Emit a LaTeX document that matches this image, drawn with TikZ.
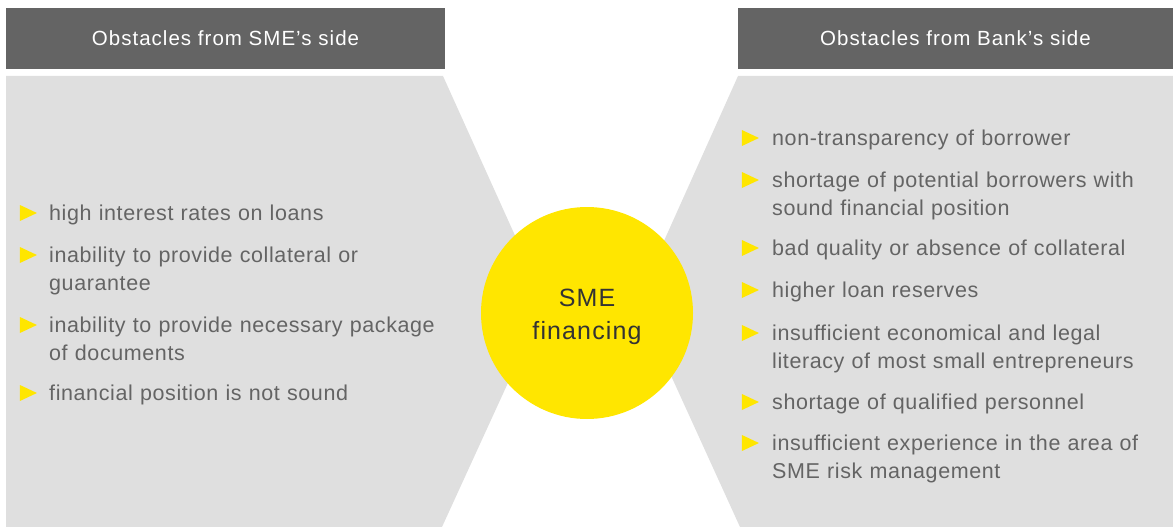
\documentclass[tikz,border=0pt]{standalone}
\usepackage{fontspec}
\setmainfont{Liberation Sans}
\usetikzlibrary{shapes.geometric,positioning}
\definecolor{hdrGrey}{HTML}{646464}
\definecolor{pnlGrey}{HTML}{DFDFDF}
\definecolor{txtGrey}{HTML}{646464}
\definecolor{eyYellow}{HTML}{FFE600}
\tikzset{
myHeader/.style={
	rectangle, fill=hdrGrey, text=white,
	inner sep=0pt, minimum height=61pt,
	font=\fontsize{20.5}{24}\selectfont\addfontfeature{LetterSpace=5}
}
, myPanel/.style={fill=pnlGrey, draw=none}
, myBullet/.style={
	isosceles triangle, isosceles triangle stretches,
	fill=eyYellow, inner sep=0pt,
	minimum width=16pt, minimum height=17pt
}
, myItem/.style={
	anchor=base west, inner sep=0pt, text=txtGrey,
	align=left, font=\fontsize{21.5}{28}\selectfont\addfontfeature{LetterSpace=2.8}
}
, myCircle/.style={
	circle, fill=eyYellow, minimum size=212pt, inner sep=0pt,
	text=black!80, align=center,
	font=\fontsize{25}{33}\selectfont\addfontfeature{LetterSpace=4.5}
}
}

\begin{document}
\begin{tikzpicture}[x=1pt,y=-1pt]
	\useasboundingbox (0,0) rectangle (1173,527);
	% panels
	\fill[myPanel] (6,76) -- (443,76) -- (545,302) -- (442,527) -- (6,527) -- cycle;
	\fill[myPanel] (738,76) -- (1173,76) -- (1173,527) -- (740,527) -- (637,301) -- cycle;
	% headers
	\node[myHeader, minimum width=439pt] (HeadSME) at (225.5,38.5) {Obstacles from SME’s side};
	\node[myHeader, minimum width=435pt] (HeadBank) at (955.5,38.5) {Obstacles from Bank’s side};
	% centre
	\node[myCircle] (Fin) at (587,313) {\rule{0pt}{25pt}SME\\financing};
	% SME side
	\node[myBullet] (s1b) at (25,213) {};
	\node[myItem, text width=420pt] (S1) at (49,220) {high interest rates on loans};
	\node[myBullet] (s2b) at (25,255) {};
	\node[myItem, text width=420pt] (S2) at (49,262) {inability to provide collateral or\\guarantee};
	\node[myBullet] (s3b) at (25,325) {};
	\node[myItem, text width=420pt] (S3) at (49,332) {inability to provide necessary package\\of documents};
	\node[myBullet] (s4b) at (25,393) {};
	\node[myItem, text width=420pt] (S4) at (49,400) {financial position is not sound};
	% Bank side
	\node[myBullet] (b1b) at (747,138) {};
	\node[myItem, text width=400pt] (B1) at (772,145) {non-transparency of borrower};
	\node[myBullet] (b2b) at (747,180) {};
	\node[myItem, text width=400pt] (B2) at (772,187) {shortage of potential borrowers with\\sound financial position};
	\node[myBullet] (b3b) at (747,248) {};
	\node[myItem, text width=400pt] (B3) at (772,255) {bad quality or absence of collateral};
	\node[myBullet] (b4b) at (747,290) {};
	\node[myItem, text width=400pt] (B4) at (772,297) {higher loan reserves};
	\node[myBullet] (b5b) at (747,333) {};
	\node[myItem, text width=400pt] (B5) at (772,340) {insufficient economical and legal\\literacy of most small entrepreneurs};
	\node[myBullet] (b6b) at (747,402) {};
	\node[myItem, text width=400pt] (B6) at (772,409) {shortage of qualified personnel};
	\node[myBullet] (b7b) at (747,443) {};
	\node[myItem, text width=400pt] (B7) at (772,450) {insufficient experience in the area of\\SME risk management};
\end{tikzpicture}
\end{document}
